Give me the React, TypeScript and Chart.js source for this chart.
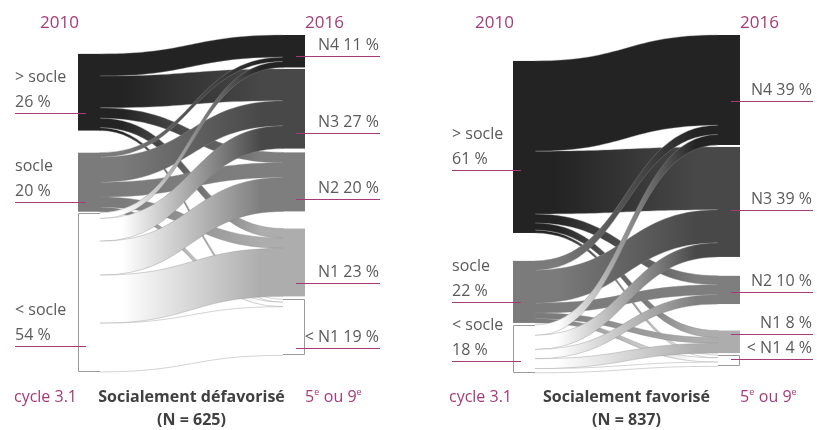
import React, { useEffect, useRef } from "react";
import { Chart, registerables } from "chart.js";

Chart.register(...registerables);

// ---------- DATA ----------
const sourceLabels = ["> socle", "socle", "< socle"];
const targetLabels = ["N4", "N3", "N2", "N1", "< N1"];
const sourceColors = ["#232323", "#7b7b7b", "#ffffff"];
const targetColors = ["#232323", "#484848", "#7e7e7e", "#adadad", "#ffffff"];

// flows in % of pupils: rows = 2010 level, columns = 2016 level
const flowsDefavorise = [
  [7.5, 10.8, 3.5, 3.2, 1.0],
  [1.5, 8.5, 5.0, 3.5, 1.5],
  [2.0, 7.7, 11.5, 16.3, 16.5],
];
const flowsFavorise = [
  [32.0, 22.3, 3.2, 2.5, 1.0],
  [3.3, 11.7, 3.5, 2.0, 1.5],
  [3.7, 5.0, 3.3, 3.5, 1.5],
];
const sourcePctDefavorise = [26, 20, 54];
const targetPctDefavorise = [11, 27, 20, 23, 19];
const sourcePctFavorise = [61, 22, 18];
const targetPctFavorise = [39, 39, 10, 8, 4];

const yearLeft = "2010";
const yearRight = "2016";
const cycleLabel = "cycle 3.1";

// ---------- LAYOUT ----------
const MAGENTA = "#a53a78";
const TEXT = "#5a5a5a";
const FONT = '"Open Sans", "Noto Sans", sans-serif';

type Panel = {
  flows: number[][];
  sourcePct: number[];
  targetPct: number[];
  title: string;
  subtitle: string;
  leftStart: number;
  leftGaps: number[];
  rightStart: number;
  rightGaps: number[];
  yMax: number;
  canvasLeft: number;
  width: number;
  nodeLeft: number;
  nodeRight: number;
  leftLabelX: number;
  rightLabelX: number;
  leftLineY: number[];
  rightLineY: number[];
};

const panels: Panel[] = [
  {
    flows: flowsDefavorise,
    sourcePct: sourcePctDefavorise,
    targetPct: targetPctDefavorise,
    title: "Socialement défavorisé",
    subtitle: "(N = 625)",
    leftStart: 6.4,
    leftGaps: [7.5, 0.3],
    rightStart: 0,
    rightGaps: [0.5, 1.3, 5.8, 1.0],
    yMax: 345 / 2.95,
    canvasLeft: 0,
    width: 408,
    nodeLeft: 78,
    nodeRight: 305,
    leftLabelX: 15,
    rightLabelX: 380,
    leftLineY: [113, 202, 346],
    rightLineY: [56, 133, 199, 283, 348],
  },
  {
    flows: flowsFavorise,
    sourcePct: sourcePctFavorise,
    targetPct: targetPctFavorise,
    title: "Socialement favorisé",
    subtitle: "(N = 837)",
    leftStart: 9.2,
    leftGaps: [9.9, 0.7],
    rightStart: 0,
    rightGaps: [0.7, 6.7, 9.4, 0.7],
    yMax: 345 / 2.82,
    canvasLeft: 408,
    width: 409,
    nodeLeft: 105,
    nodeRight: 332,
    leftLabelX: 44,
    rightLabelX: 405,
    leftLineY: [170, 302, 361],
    rightLineY: [101, 210, 292, 334, 359],
  },
];

const NODE_W = 22 / 227; // node width as a fraction of the x range

function sankeyPlugin(p: Panel) {
  return {
    id: "sankeyDraw",
    afterDraw(chart: any) {
      const ctx: CanvasRenderingContext2D = chart.ctx;
      const xs = chart.scales.x;
      const ys = chart.scales.y;
      const flows = p.flows;
      const nS = flows.length;
      const nT = flows[0].length;
      const sTot = flows.map((r) => r.reduce((a, b) => a + b, 0));
      const tTot = flows[0].map((_, j) => flows.reduce((a, r) => a + r[j], 0));

      const sTop: number[] = [];
      let acc = p.leftStart;
      for (let i = 0; i < nS; i++) {
        sTop.push(acc);
        acc += sTot[i] + (p.leftGaps[i] || 0);
      }
      const tTop: number[] = [];
      acc = p.rightStart;
      for (let j = 0; j < nT; j++) {
        tTop.push(acc);
        acc += tTot[j] + (p.rightGaps[j] || 0);
      }

      const xL0 = xs.getPixelForValue(0);
      const xL1 = xs.getPixelForValue(NODE_W);
      const xR1 = xs.getPixelForValue(1);
      const xR0 = xs.getPixelForValue(1 - NODE_W);
      const xm = (xL1 + xR0) / 2;

      ctx.save();
      // nodes
      for (let i = 0; i < nS; i++) {
        const y0 = ys.getPixelForValue(sTop[i]);
        const y1 = ys.getPixelForValue(sTop[i] + sTot[i]);
        ctx.fillStyle = sourceColors[i];
        ctx.fillRect(xL0, y0, xL1 - xL0 + 1, y1 - y0);
      }
      for (let j = 0; j < nT; j++) {
        const y0 = ys.getPixelForValue(tTop[j]);
        const y1 = ys.getPixelForValue(tTop[j] + tTot[j]);
        ctx.fillStyle = targetColors[j];
        ctx.fillRect(xR0 - 1, y0, xR1 - xR0 + 1, y1 - y0);
      }

      // ribbons
      const sOff = sTop.slice();
      const tOff = tTop.slice();
      const ribbons: any[] = [];
      for (let i = 0; i < nS; i++) {
        for (let j = 0; j < nT; j++) {
          const v = flows[i][j];
          const a0 = ys.getPixelForValue(sOff[i]);
          const a1 = ys.getPixelForValue(sOff[i] + v);
          const b0 = ys.getPixelForValue(tOff[j]);
          const b1 = ys.getPixelForValue(tOff[j] + v);
          sOff[i] += v;
          tOff[j] += v;
          ribbons.push({ i, j, a0, a1, b0, b1 });
        }
      }
      for (const r of ribbons) {
        const g = ctx.createLinearGradient(xL1, 0, xR0, 0);
        g.addColorStop(0, sourceColors[r.i]);
        g.addColorStop(0.12, sourceColors[r.i]);
        g.addColorStop(0.88, targetColors[r.j]);
        g.addColorStop(1, targetColors[r.j]);
        ctx.beginPath();
        ctx.moveTo(xL1 - 0.5, r.a0);
        ctx.bezierCurveTo(xm, r.a0, xm, r.b0, xR0 + 0.5, r.b0);
        ctx.lineTo(xR0 + 0.5, r.b1);
        ctx.bezierCurveTo(xm, r.b1, xm, r.a1, xL1 - 0.5, r.a1);
        ctx.closePath();
        ctx.fillStyle = g;
        ctx.fill();
        ctx.strokeStyle = "rgba(140,140,140,0.55)";
        ctx.lineWidth = 0.7;
        ctx.beginPath();
        ctx.moveTo(xL1, r.a0);
        ctx.bezierCurveTo(xm, r.a0, xm, r.b0, xR0, r.b0);
        ctx.stroke();
        ctx.beginPath();
        ctx.moveTo(xL1, r.a1);
        ctx.bezierCurveTo(xm, r.a1, xm, r.b1, xR0, r.b1);
        ctx.stroke();
      }

      // outlines for white nodes
      ctx.strokeStyle = "#9a9a9a";
      ctx.lineWidth = 1;
      for (let i = 0; i < nS; i++) {
        if (sourceColors[i] !== "#ffffff") continue;
        const y0 = ys.getPixelForValue(sTop[i]);
        const y1 = ys.getPixelForValue(sTop[i] + sTot[i]);
        ctx.beginPath();
        ctx.moveTo(xL1, Math.round(y0) + 0.5);
        ctx.lineTo(Math.round(xL0) + 0.5, Math.round(y0) + 0.5);
        ctx.lineTo(Math.round(xL0) + 0.5, Math.round(y1) - 0.5);
        ctx.lineTo(xL1, Math.round(y1) - 0.5);
        ctx.stroke();
      }
      for (let j = 0; j < nT; j++) {
        if (targetColors[j] !== "#ffffff") continue;
        const y0 = ys.getPixelForValue(tTop[j]);
        const y1 = ys.getPixelForValue(tTop[j] + tTot[j]);
        ctx.beginPath();
        ctx.moveTo(xR0, Math.round(y0) + 0.5);
        ctx.lineTo(Math.round(xR1) - 0.5, Math.round(y0) + 0.5);
        ctx.lineTo(Math.round(xR1) - 0.5, Math.round(y1) - 0.5);
        ctx.lineTo(xR0, Math.round(y1) - 0.5);
        ctx.stroke();
      }

      // labels
      ctx.textBaseline = "middle";
      ctx.font = `16px ${FONT}`;
      for (let i = 0; i < nS; i++) {
        const ly = p.leftLineY[i];
        ctx.fillStyle = TEXT;
        ctx.textAlign = "left";
        ctx.fillText(sourceLabels[i], p.leftLabelX, ly - 36);
        ctx.fillText(`${p.sourcePct[i]} %`, p.leftLabelX, ly - 11);
        ctx.strokeStyle = MAGENTA;
        ctx.lineWidth = 1;
        ctx.beginPath();
        ctx.moveTo(p.leftLabelX, ly + 0.5);
        ctx.lineTo(xL0 + 8, ly + 0.5);
        ctx.stroke();
      }
      for (let j = 0; j < nT; j++) {
        const ly = p.rightLineY[j];
        ctx.fillStyle = TEXT;
        ctx.textAlign = "right";
        ctx.fillText(`${targetLabels[j]} ${p.targetPct[j]} %`, p.rightLabelX - 1, ly - 11);
        ctx.strokeStyle = MAGENTA;
        ctx.lineWidth = 1;
        ctx.beginPath();
        ctx.moveTo(xR1 - 9, ly + 0.5);
        ctx.lineTo(p.rightLabelX, ly + 0.5);
        ctx.stroke();
      }

      // years
      ctx.fillStyle = MAGENTA;
      ctx.font = `17px ${FONT}`;
      ctx.textAlign = "right";
      ctx.fillText(yearLeft, xL0 + 1, 23);
      ctx.textAlign = "left";
      ctx.fillText(yearRight, xR1, 23);

      // bottom
      ctx.font = `16px ${FONT}`;
      ctx.textAlign = "right";
      ctx.fillText(cycleLabel, xL0 - 1, 397);
      ctx.textAlign = "left";
      let x = xR1;
      const parts: [string, boolean][] = [
        ["5", false],
        ["e", true],
        [" ou 9", false],
        ["e", true],
      ];
      for (const [t, sup] of parts) {
        ctx.font = sup ? `9px ${FONT}` : `16px ${FONT}`;
        ctx.fillText(t, x, sup ? 392 : 397);
        x += ctx.measureText(t).width + (sup ? 0.5 : 0);
      }
      ctx.fillStyle = "#404040";
      ctx.font = `bold 16px ${FONT}`;
      ctx.textAlign = "center";
      const cx = (xL0 + xR1) / 2;
      ctx.fillText(p.title, cx, 397);
      ctx.fillText(p.subtitle, cx, 420);
      ctx.restore();
    },
  };
}

function SankeyPanel({ p }: { p: Panel }) {
  const ref = useRef<HTMLCanvasElement>(null);
  useEffect(() => {
    if (!ref.current) return;
    const chart = new Chart(ref.current, {
      type: "scatter",
      data: { datasets: [] },
      options: {
        responsive: false,
        animation: false,
        events: [],
        layout: {
          padding: {
            left: p.nodeLeft,
            right: p.width - p.nodeRight,
            top: 35,
            bottom: 50,
          },
        },
        plugins: {
          legend: { display: false },
          title: { display: false },
          tooltip: { enabled: false },
        },
        scales: {
          x: { type: "linear", min: 0, max: 1, display: false },
          y: { type: "linear", min: 0, max: p.yMax, reverse: true, display: false },
        },
      },
      plugins: [sankeyPlugin(p)],
    } as any);
    return () => chart.destroy();
  }, [p]);
  return (
    <canvas
      ref={ref}
      width={p.width}
      height={430}
      style={{
        position: "absolute",
        left: p.canvasLeft,
        top: 0,
        width: p.width,
        height: 430,
      }}
    />
  );
}

export default function App() {
  return (
    <div
      style={{
        position: "absolute",
        left: 0,
        top: 0,
        width: 817,
        height: 430,
        background: "#ffffff",
        overflow: "hidden",
      }}
    >
      {panels.map((p, k) => (
        <SankeyPanel key={k} p={p} />
      ))}
    </div>
  );
}
